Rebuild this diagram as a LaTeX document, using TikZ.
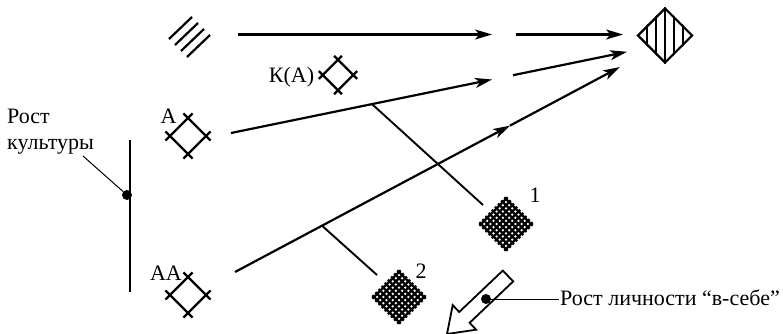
\documentclass[tikz,border=0pt]{standalone}
\usepackage{fontspec}
\setmainfont{Liberation Serif}
\usetikzlibrary{arrows.meta,calc,shapes.geometric}

\begin{document}
\begin{tikzpicture}[x=1pt,y=-1pt,>={Stealth[length=17pt,width=10pt,inset=4.5pt]},
  every node/.style={font=\fontsize{22}{26}\selectfont,inner sep=1pt},
  main/.style={line width=2.2pt},
  branch/.style={line width=1.9pt},
  leader/.style={line width=1pt},
  dotmark/.style={circle,fill,inner sep=0,minimum size=10pt},
  crossdiam/.pic={\begin{scope}[rotate=45,line width=2.2pt]
    \foreach \s in {-12.7,12.7} {\draw (-19.2,\s) -- (19.2,\s); \draw (\s,-19.2) -- (\s,19.2);}
  \end{scope}},
  mesh/.pic={\begin{scope}[rotate=45,line width=2.2pt]
    \foreach \k in {0,...,8} {\draw (-20,-17.7+4.425*\k) -- (20,-17.7+4.425*\k);
      \draw (-17.7+4.425*\k,-20) -- (-17.7+4.425*\k,20);}
  \end{scope}}]
\useasboundingbox (0,0) rectangle (783,334);
\foreach \k in {0,...,3} \draw[main] (169+6*\k,39+6*\k) -- (192+6*\k,17+6*\k);
\node[diamond,draw,line width=2.2pt,minimum width=55pt,minimum height=55pt,inner sep=0] (goal) at (665,35.5) {};
\begin{scope}
\clip (goal.north) -- (goal.east) -- (goal.south) -- (goal.west) -- cycle;
\foreach \dx in {-18,-9,0,9,18} \draw[line width=1.1pt] ($(goal.center)+(\dx,-30)$) -- ($(goal.center)+(\dx,30)$);
\end{scope}
\pic[scale=0.85] at (338,75) {crossdiam};
\pic at (188,136) {crossdiam};
\pic at (188,295) {crossdiam};
\pic at (506,224) {mesh};
\pic at (399,297) {mesh};
\node[anchor=base] (lKA) at (291.5,83) {К(А)};
\node[anchor=base] (lA) at (168.5,123) {А};
\node[anchor=base] (lAA) at (166,280) {АА};
\node[anchor=base] (l1) at (535,202) {1};
\node[anchor=base] (l2) at (421,278) {2};
\node[anchor=north west,align=left,inner sep=0] (cult) at (7,109) {Рост\\культуры};
\coordinate (cultend) at (83,156);
\coordinate (ctop) at (130,140);
\coordinate (cbot) at (130,292);
\draw[main] (ctop) -- (cbot);
\node[dotmark] (cdot) at (127,195) {};
\draw[leader] (cultend) -- (cdot);
\coordinate (t0) at (238,34.5);
\coordinate (t1) at (492,34.5);
\coordinate (t2) at (516,34.5);
\coordinate (t3) at (623,34.5);
\draw[main,->] (t0) -- (t1);
\draw[main,->] (t2) -- (t3);
\coordinate (a0) at (231,133);
\coordinate (aj) at (372,104.1);
\coordinate (a1) at (492,79.5);
\coordinate (a2) at (513,75.2);
\coordinate (a3) at (627,51.8);
\coordinate (m1a) at (483,205);
\draw[main,->] (a0) -- (a1);
\draw[main,->] (a2) -- (a3);
\draw[branch] (aj) -- (m1a);
\coordinate (b0) at (235,272);
\coordinate (bj) at (322,225.7);
\coordinate (b1) at (510,125.6);
\coordinate (b2) at (620,67);
\coordinate (m2a) at (377,275);
\draw[main,->] (b0) -- (b1);
\draw[main,->] (b1) -- (b2);
\draw[branch] (bj) -- (m2a);
\draw[line width=1.8pt,line join=miter] (513.2,281.4) -- (502.8,270.6) -- (459.2,312.0) -- (452.7,305.1)
  -- (447,334) -- (476.1,329.7) -- (469.6,322.8) -- cycle;
\node[dotmark] (pdot) at (486,299) {};
\node[anchor=base west] (lpers) at (559,305) {Рост личности “в-себе”};
\draw[leader] (pdot) -- (pdot -| lpers.west);
\end{tikzpicture}
\end{document}
